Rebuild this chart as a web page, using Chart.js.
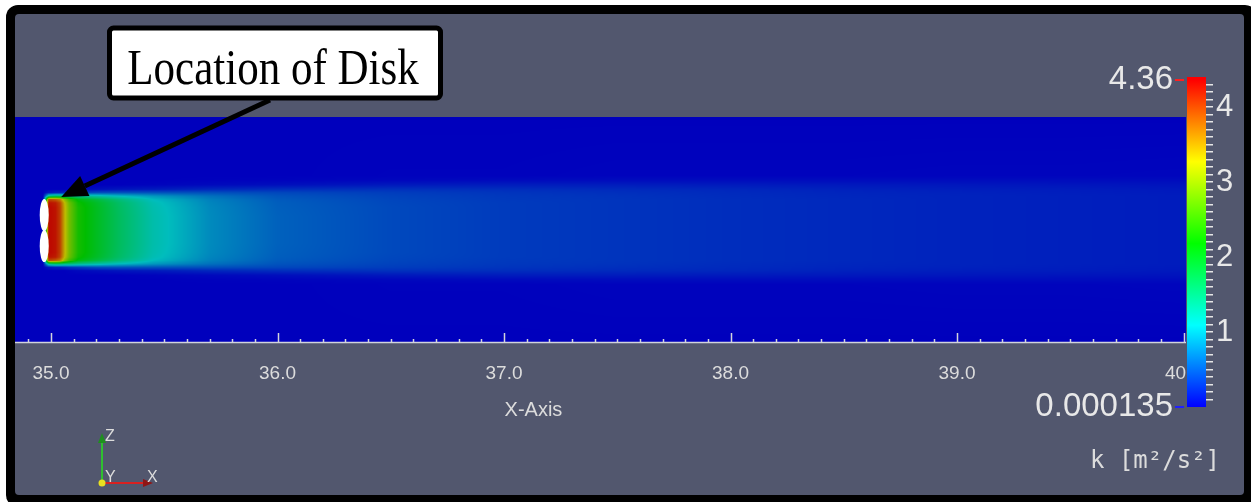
<!DOCTYPE html>
<html>
<head>
<meta charset="utf-8">
<script src="https://cdn.jsdelivr.net/npm/chart.js@4/dist/chart.umd.min.js"></script>
<style>
  body { margin: 0; background: #fff; }
  #wrap { position: relative; width: 1251px; height: 502px; }
  #wrap canvas { position: absolute; left: 0; top: 0; }
</style>
</head>
<body>
<div id="wrap">
  <canvas id="field" width="1251" height="502"></canvas>
  <canvas id="bar" width="1251" height="502"></canvas>
</div>
<script>
const stationsX = [34.841, 34.965, 34.99, 35.0, 35.02, 35.04, 35.06, 35.08, 35.12, 35.2, 35.3,
                   35.45, 35.7, 36.0, 36.5, 37.0, 37.5, 38.0, 38.5, 39.0, 39.5, 40.011];
// distance from the wake centre line
const stationsZ = [0, 0.06, 0.10, 0.12, 0.135, 0.15, 0.165, 0.18, 0.20, 0.22, 0.24, 0.50];
// k [m2/s2], one profile (along stationsZ) per axial station
const kProfiles = [
  [0, 0, 0, 0, 0, 0, 0, 0, 0, 0, 0, 0],
  [0, 0, 0, 0, 0, 0, 0, 0, 0, 0, 0, 0],
  [4.3, 4.3, 4.3, 4.25, 3.9, 1.4, 0.15, 0, 0, 0, 0, 0],
  [4.3, 4.3, 4.3, 4.25, 3.9, 1.5, 0.15, 0, 0, 0, 0, 0],
  [4.25, 4.25, 4.25, 4.2, 3.8, 1.6, 0.2, 0, 0, 0, 0, 0],
  [4.0, 4.0, 4.0, 3.95, 3.6, 1.6, 0.2, 0, 0, 0, 0, 0],
  [3.35, 3.35, 3.35, 3.3, 3.0, 1.5, 0.25, 0, 0, 0, 0, 0],
  [2.85, 2.85, 2.85, 2.8, 2.55, 1.5, 0.3, 0.02, 0, 0, 0, 0],
  [2.3, 2.3, 2.3, 2.25, 2.1, 1.4, 0.35, 0.05, 0, 0, 0, 0],
  [2.0, 2.0, 2.0, 1.96, 1.82, 1.25, 0.45, 0.08, 0, 0, 0, 0],
  [1.65, 1.65, 1.63, 1.6, 1.48, 1.08, 0.48, 0.12, 0, 0, 0, 0],
  [1.2, 1.2, 1.18, 1.15, 1.08, 0.88, 0.48, 0.15, 0.02, 0, 0, 0],
  [0.8, 0.8, 0.79, 0.77, 0.74, 0.65, 0.46, 0.22, 0.05, 0.01, 0, 0],
  [0.56, 0.56, 0.55, 0.54, 0.52, 0.48, 0.41, 0.26, 0.08, 0.02, 0, 0],
  [0.42, 0.42, 0.42, 0.41, 0.4, 0.38, 0.35, 0.28, 0.14, 0.04, 0.01, 0],
  [0.34, 0.34, 0.34, 0.34, 0.33, 0.32, 0.3, 0.26, 0.16, 0.06, 0.01, 0],
  [0.3, 0.3, 0.3, 0.3, 0.3, 0.29, 0.27, 0.24, 0.16, 0.07, 0.02, 0],
  [0.26, 0.26, 0.26, 0.26, 0.26, 0.25, 0.24, 0.22, 0.15, 0.07, 0.02, 0],
  [0.23, 0.23, 0.23, 0.23, 0.23, 0.22, 0.21, 0.19, 0.14, 0.07, 0.02, 0],
  [0.2, 0.2, 0.2, 0.2, 0.2, 0.2, 0.19, 0.17, 0.13, 0.07, 0.025, 0],
  [0.18, 0.18, 0.18, 0.18, 0.18, 0.18, 0.17, 0.16, 0.12, 0.07, 0.025, 0],
  [0.16, 0.16, 0.16, 0.16, 0.16, 0.16, 0.15, 0.14, 0.11, 0.07, 0.03, 0]
];
const xTickValues = [35, 36, 37, 38, 39, 40];
const kMin = 0.000135;
const kMax = 4.36;
const kTickLabels = [1, 2, 3, 4];
// rotor disks (two white discs) and the annotation pointer
const diskX = 34.97;
const diskZ = [0.066, -0.071];
const pointerTip = { x: 35.045, z: 0.146 };

const X_MIN = 34.841, X_MAX = 40.011;
const SHADE = 0.74; // scene lighting darkens the slice
const rainbow = [[0, 0, 255], [0, 255, 255], [0, 255, 0], [255, 255, 0], [255, 0, 0]];
const labelFont = '"Liberation Sans", Arial, sans-serif';

function kColor(k) {
  let f = (k - kMin) / (kMax - kMin);
  f = Math.min(Math.max(f, 0), 1) * (rainbow.length - 1);
  const i = Math.min(Math.floor(f), rainbow.length - 2);
  const t = f - i;
  const a = rainbow[i], b = rainbow[i + 1];
  return [0, 1, 2].map(c => a[c] + (b[c] - a[c]) * t);
}

function bracket(arr, v) {
  if (v <= arr[0]) return [0, 0];
  for (let i = 0; i < arr.length - 1; i++) {
    if (v <= arr[i + 1]) return [i, (v - arr[i]) / (arr[i + 1] - arr[i])];
  }
  return [arr.length - 2, 1];
}

const fieldPlugin = {
  id: 'sliceView',
  beforeDraw(chart) {
    const ctx = chart.ctx;
    const W = chart.width, H = chart.height;
    ctx.save();
    ctx.fillStyle = '#fff';
    ctx.fillRect(0, 0, W, H);
    ctx.fillStyle = '#000';
    ctx.beginPath();
    ctx.roundRect(6, 5, W, H, 12);
    ctx.fill();
    ctx.fillStyle = '#52576e';
    ctx.beginPath();
    ctx.roundRect(15, 14, 1244 - 15, 495 - 14, 4);
    ctx.fill();

    // contour of k on the slice
    const { left, top, right, bottom } = chart.chartArea;
    const xs = chart.scales.x, ys = chart.scales.y;
    const w = Math.round(right - left), h = Math.round(bottom - top);
    const off = document.createElement('canvas');
    off.width = w; off.height = h;
    const octx = off.getContext('2d');
    const img = octx.createImageData(w, h);
    const cols = [];
    for (let i = 0; i < w; i++) cols.push(bracket(stationsX, xs.getValueForPixel(left + i + 0.5)));
    const rows = [];
    for (let r = 0; r < h; r++) rows.push(bracket(stationsZ, Math.abs(ys.getValueForPixel(top + r + 0.5))));
    for (let r = 0; r < h; r++) {
      const [m, tz] = rows[r];
      for (let i = 0; i < w; i++) {
        const [j, tx] = cols[i];
        const a = kProfiles[j][m] * (1 - tz) + kProfiles[j][m + 1] * tz;
        const b = kProfiles[j + 1][m] * (1 - tz) + kProfiles[j + 1][m + 1] * tz;
        const col = kColor(a * (1 - tx) + b * tx);
        const p = (r * w + i) * 4;
        img.data[p] = col[0] * SHADE;
        img.data[p + 1] = col[1] * SHADE;
        img.data[p + 2] = col[2] * SHADE;
        img.data[p + 3] = 255;
      }
    }
    octx.putImageData(img, 0, 0);
    ctx.drawImage(off, left, top);

    // the two disks
    ctx.fillStyle = '#ffffff';
    const cx = xs.getPixelForValue(diskX);
    const rx = xs.getPixelForValue(diskX + 0.02) - cx;
    diskZ.forEach(z => {
      const cy = ys.getPixelForValue(z);
      const ry = ys.getPixelForValue(0) - ys.getPixelForValue(0.071);
      ctx.beginPath();
      ctx.ellipse(cx, cy, rx, ry, 0, 0, Math.PI * 2);
      ctx.fill();
    });
    ctx.restore();
  },
  afterDraw(chart) {
    const ctx = chart.ctx;
    const xs = chart.scales.x, ys = chart.scales.y;
    const { left, right, bottom } = chart.chartArea;
    ctx.save();
    // axis line with ticks pointing up
    ctx.strokeStyle = '#d2d4dc';
    ctx.lineWidth = 1.5;
    ctx.beginPath();
    ctx.moveTo(left, bottom - 0.5);
    ctx.lineTo(right, bottom - 0.5);
    for (let i = 349; i <= 400; i++) {
      const px = Math.round(xs.getPixelForValue(i / 10)) + 0.5;
      const len = i % 10 === 0 ? 10 : 4;
      ctx.moveTo(px, bottom);
      ctx.lineTo(px, bottom - len);
    }
    ctx.stroke();

    ctx.fillStyle = '#dcdcdc';
    ctx.font = '20px ' + labelFont;
    ctx.textAlign = 'center';
    ctx.textBaseline = 'middle';
    ctx.fillText('X-Axis', xs.getPixelForValue(37.13), 410);

    // pointer from the label to the disk
    const tx = xs.getPixelForValue(pointerTip.x), ty = ys.getPixelForValue(pointerTip.z);
    const sx = 270, sy = 100;
    const ang = Math.atan2(ty - sy, tx - sx);
    const hl = 26, hw = 11;
    const bx = tx - hl * Math.cos(ang), by = ty - hl * Math.sin(ang);
    ctx.strokeStyle = '#000';
    ctx.fillStyle = '#000';
    ctx.lineWidth = 5;
    ctx.beginPath();
    ctx.moveTo(sx, sy);
    ctx.lineTo(bx, by);
    ctx.stroke();
    ctx.beginPath();
    ctx.moveTo(tx, ty);
    ctx.lineTo(bx + hw * Math.sin(ang), by - hw * Math.cos(ang));
    ctx.lineTo(bx - hw * Math.sin(ang), by + hw * Math.cos(ang));
    ctx.closePath();
    ctx.fill();

    // annotation box
    ctx.fillStyle = '#fff';
    ctx.lineWidth = 5;
    ctx.beginPath();
    ctx.roundRect(109.5, 28, 331, 70, 4);
    ctx.fill();
    ctx.stroke();
    ctx.fillStyle = '#000';
    ctx.font = '43px "Liberation Serif", "Times New Roman", serif';
    ctx.textAlign = 'center';
    ctx.textBaseline = 'alphabetic';
    ctx.save();
    ctx.translate(273, 84);
    ctx.scale(1, 1.2);
    ctx.fillText('Location of Disk', 0, 0);
    ctx.restore();

    // orientation triad
    const ox = 102, oy = 483;
    ctx.lineWidth = 2;
    ctx.strokeStyle = '#2fc02f';
    ctx.beginPath(); ctx.moveTo(ox, oy); ctx.lineTo(ox, 440); ctx.stroke();
    ctx.fillStyle = '#1f8f1f';
    ctx.beginPath(); ctx.moveTo(ox, 433); ctx.lineTo(ox - 4, 443); ctx.lineTo(ox + 4, 443); ctx.closePath(); ctx.fill();
    ctx.strokeStyle = '#d82020';
    ctx.beginPath(); ctx.moveTo(ox, oy); ctx.lineTo(145, oy); ctx.stroke();
    ctx.fillStyle = '#8f1515';
    ctx.beginPath(); ctx.moveTo(153, oy); ctx.lineTo(143, oy - 4); ctx.lineTo(143, oy + 4); ctx.closePath(); ctx.fill();
    ctx.fillStyle = '#e8e020';
    ctx.beginPath(); ctx.arc(ox, oy, 3.5, 0, Math.PI * 2); ctx.fill();
    ctx.fillStyle = '#dcdcdc';
    ctx.font = '16px ' + labelFont;
    ctx.textAlign = 'left';
    ctx.textBaseline = 'middle';
    ctx.fillText('Z', ox + 3, 437);
    ctx.fillText('Y', ox + 3, 478);
    ctx.fillText('X', 147, 478);

    // colour bar title
    ctx.font = '24px "DejaVu Sans Mono", monospace';
    ctx.textBaseline = 'alphabetic';
    ctx.fillText('k [m\u00b2/s\u00b2]', 1090, 468);
    ctx.restore();
  }
};

new Chart(document.getElementById('field'), {
  type: 'scatter',
  data: { datasets: [] },
  options: {
    responsive: false,
    animation: false,
    events: [],
    layout: { padding: { left: 15, right: 65, top: 117, bottom: 0 } },
    plugins: { legend: { display: false }, tooltip: { enabled: false } },
    scales: {
      x: {
        type: 'linear',
        min: X_MIN,
        max: X_MAX,
        position: 'bottom',
        afterBuildTicks: s => { s.ticks = xTickValues.map(v => ({ value: v })); },
        afterFit: s => { s.height = 159; },
        grid: { display: false, drawTicks: false },
        border: { display: false },
        ticks: {
          color: '#dcdcdc',
          font: { size: 19, family: labelFont },
          padding: 19,
          maxRotation: 0,
          autoSkip: false,
          callback: v => v.toFixed(1)
        }
      },
      y: { type: 'linear', min: -0.5, max: 0.5, display: false }
    }
  },
  plugins: [fieldPlugin]
});

const barPlugin = {
  id: 'colourBar',
  beforeDatasetsDraw(chart) {
    const ctx = chart.ctx;
    const ys = chart.scales.y;
    const { left, right } = chart.chartArea;
    const y0 = ys.getPixelForValue(kMin), y1 = ys.getPixelForValue(kMax);
    const g = ctx.createLinearGradient(0, y0, 0, y1);
    rainbow.forEach((c, i) => g.addColorStop(i / (rainbow.length - 1), 'rgb(' + c.join(',') + ')'));
    ctx.save();
    ctx.fillStyle = g;
    ctx.fillRect(left, y1 - 3, right - left, y0 - y1 + 3);
    ctx.restore();
  },
  afterDraw(chart) {
    const ctx = chart.ctx;
    const ys = chart.scales.y;
    const { left } = chart.chartArea;
    const yTop = ys.getPixelForValue(kMax), yBot = ys.getPixelForValue(kMin);
    ctx.save();
    ctx.lineWidth = 2;
    ctx.strokeStyle = '#ff2020';
    ctx.beginPath(); ctx.moveTo(left - 12, yTop); ctx.lineTo(left - 3, yTop); ctx.stroke();
    ctx.strokeStyle = '#2020ff';
    ctx.beginPath(); ctx.moveTo(left - 12, yBot); ctx.lineTo(left - 3, yBot); ctx.stroke();
    ctx.fillStyle = '#e8e8e8';
    ctx.font = '33px ' + labelFont;
    ctx.textAlign = 'right';
    ctx.textBaseline = 'middle';
    ctx.fillText(String(kMax), left - 14, yTop);
    ctx.fillText(kMin.toFixed(6), left - 14, yBot);
    ctx.restore();
  }
};

new Chart(document.getElementById('bar'), {
  type: 'scatter',
  data: { datasets: [] },
  options: {
    responsive: false,
    animation: false,
    events: [],
    layout: { padding: { left: 1187, top: 80, bottom: 95, right: 0 } },
    plugins: { legend: { display: false }, tooltip: { enabled: false } },
    scales: {
      x: { type: 'linear', min: 0, max: 1, display: false },
      y: {
        type: 'linear',
        position: 'right',
        min: kMin,
        max: kMax,
        afterBuildTicks: s => {
          const t = [];
          for (let i = 1; i <= 43; i++) t.push({ value: i / 10 });
          s.ticks = t;
        },
        afterFit: s => { s.width = 45; },
        grid: { drawOnChartArea: false, drawTicks: true, tickLength: 7, color: '#e6e6e6', lineWidth: 1.5 },
        border: { display: false },
        ticks: {
          autoSkip: false,
          padding: 3,
          color: '#e8e8e8',
          font: { size: 31, family: labelFont },
          callback: v => {
            const n = Math.round(v);
            return Math.abs(v - n) < 1e-6 && kTickLabels.includes(n) ? String(n) : '';
          }
        }
      }
    }
  },
  plugins: [barPlugin]
});
</script>
</body>
</html>
